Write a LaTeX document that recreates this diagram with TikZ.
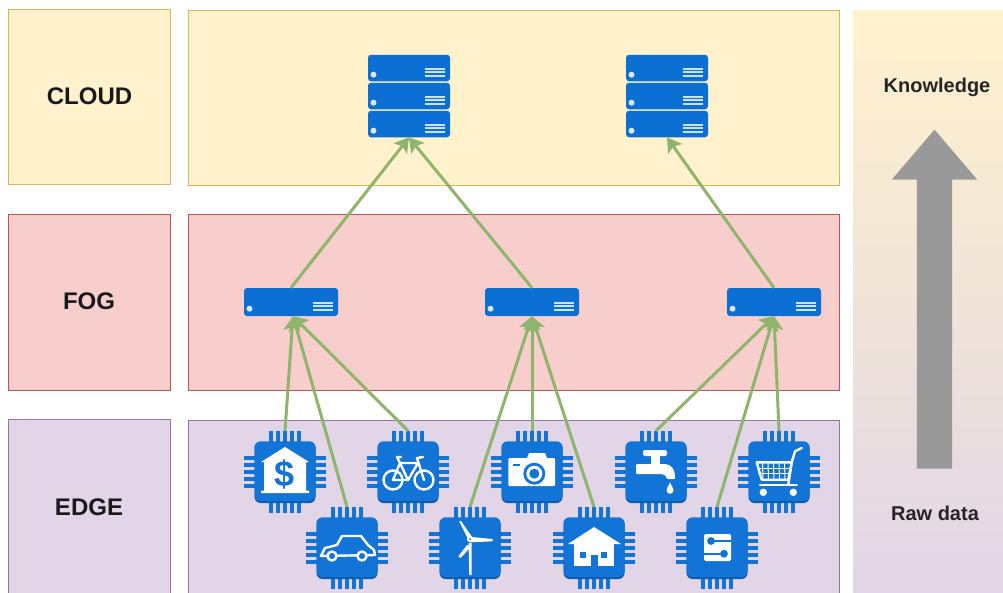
\documentclass[tikz,border=0pt]{standalone}
\usepackage{fontspec}
\setmainfont{Liberation Sans}
\usetikzlibrary{arrows.meta,shapes.arrows}

\definecolor{chipblue}{HTML}{1174D6}
\definecolor{chipdark}{HTML}{0B5CAE}
\definecolor{serverblue}{HTML}{0B6FD3}
\definecolor{linkgreen}{HTML}{8FB56C}
\definecolor{cloudfill}{HTML}{FFF2CC}
\definecolor{cloudline}{HTML}{D6B656}
\definecolor{fogfill}{HTML}{F8CECC}
\definecolor{fogline}{HTML}{B85450}
\definecolor{edgefill}{HTML}{E1D5E7}
\definecolor{edgeline}{HTML}{9673A6}

\tikzset{
    band/.style={fill=#1fill, draw=#1line, line width=0.5pt, inner sep=0pt},
    labeltext/.style={font=\bfseries\fontsize{24}{24}\selectfont, text=black!90},
    sidetext/.style={font=\bfseries\fontsize{20}{20}\selectfont, text=black!85},
    link/.style={draw=linkgreen, line width=3pt, -{Stealth[length=14pt,width=17pt,inset=3pt]}},
    serverunit/.style={fill=serverblue, rounded corners=3pt, inner sep=0pt, minimum height=#1},
    chipspace/.style={minimum size=82pt, inner sep=0pt},
    whiteline/.style={draw=white, line width=2.4pt, line join=round, line cap=round},
    serverlines/.pic={
        \fill[white!85!serverblue] (-#1+5.5,6.7) circle (3);
        \foreach \ypos in {0.8,4.2,7.6}
            \fill[white!80!serverblue] (#1-25,\ypos-0.9) rectangle (#1-5.5,\ypos+0.9);
    },
    chip/.pic={
        \foreach \off in {-14.4,-7.2,0,7.2,14.4} {
            \fill[chipblue] (\off-2,-41) rectangle (\off+2,41);
            \fill[chipblue] (-41,\off-2) rectangle (41,\off+2);
        }
        \fill[chipdark,rounded corners=6pt] (-30.5,-30.5) rectangle (30.5,31);
        \fill[chipblue,rounded corners=6pt] (-30.5,-30.5) rectangle (30.5,29);
    },
    bankicon/.pic={
        \fill[white] (0,-25) -- (24,-10) -- (21,-10) -- (21,18.5) -- (24,18.5) -- (24,21) -- (-24,21) -- (-24,18.5) -- (-21,18.5) -- (-21,-10) -- (-24,-10) -- cycle;
        \node[font=\bfseries\fontsize{36}{36}\selectfont, text=chipblue, inner sep=0pt] (dollar) at (0,2) {\$};
    },
    caricon/.pic={
        \draw[whiteline] (-26,8) -- (-22,0) -- (-10,-3) -- (-5,-12) -- (14,-12) -- (21,-3) -- (27,2) -- (28,7) -- cycle;
        \foreach \xpos in {-15,15}
            \draw[whiteline,fill=chipblue] (\xpos,8) circle (4.5);
    },
    bikeicon/.pic={
        \foreach \xpos in {-15,16}
            \draw[whiteline] (\xpos,8) circle (9.5);
        \draw[whiteline] (-15,8) -- (-8,-9) -- (0,8) -- cycle;
        \draw[whiteline] (-8,-9) -- (10,-9) -- (0,8);
        \draw[whiteline] (16,8) -- (9,-14) -- (15,-15);
        \draw[whiteline] (-8,-9) -- (-11,-15) -- (-7,-15);
    },
    windicon/.pic={
        \fill[white] (-1.5,-5) -- (1.7,-5) -- (1.7,27) -- (-0.7,27) -- cycle;
        \fill[white] (-2.5,-10) -- (-11,-27) -- (-9,-27) -- (2,-11) -- cycle;
        \fill[white] (1.7,-11) -- (22.7,-9) -- (22.7,-6.7) -- (0.7,-5.7) -- cycle;
        \fill[white] (-2.7,-3.3) -- (-11.7,8.3) -- (-9.3,10) -- (0.5,-1) -- cycle;
        \fill[white] (0,-9) circle (3.2);
        \fill[chipblue] (0,-9) circle (1);
    },
    cameraicon/.pic={
        \fill[white,rounded corners=1pt] (-23.7,-14) rectangle (23,14);
        \fill[white] (-5,-14) -- (-3,-19) -- (13,-19) -- (15,-14) -- cycle;
        \fill[chipblue] (-18.7,-8) rectangle (-12.5,-5.7);
        \fill[chipblue] (2.3,1.7) circle (11);
        \fill[white] (2.3,1.7) circle (8);
        \fill[chipblue] (2.3,1.7) circle (5);
    },
    houseicon/.pic={
        \fill[white] (0,-21) -- (27,-4) -- (-26,-4) -- cycle;
        \fill[white] (-20,-5) rectangle (19.5,18);
        \foreach \xpos in {-11,10}
            \fill[chipblue] (\xpos-3,4) rectangle (\xpos+3,10);
        \fill[chipblue] (-3.5,7) rectangle (3.5,18);
    },
    tapicon/.pic={
        \fill[white,rounded corners=2pt] (-13,-22) rectangle (11,-16);
        \fill[white] (-5,-17) rectangle (4,-7);
        \fill[white,rounded corners=1pt] (-20,-8) -- (8,-8) .. controls (15,-8) and (19,-3) .. (19,7) -- (10.7,7) .. controls (10.7,4) and (8,2) .. (4,2) -- (-20,2) -- cycle;
        \fill[white] (14,10.5) .. controls (15,14) and (17.5,15) .. (17.5,18) .. controls (17.5,23) and (10.5,23) .. (10.5,18) .. controls (10.5,15) and (13,14) .. (14,10.5) -- cycle;
    },
    circuiticon/.pic={
        \fill[white,rounded corners=1.5pt] (-13,-14) rectangle (14,13);
        \draw[chipblue,line width=1.6pt] (-6,-7) -- (14,-7);
        \draw[chipblue,line width=1.6pt] (-13,5.7) -- (7,5.7);
        \fill[chipblue] (-6,-7) circle (3.9);
        \fill[chipblue] (7,5.7) circle (3.9);
    },
    carticon/.pic={
        \draw[whiteline] (-22.3,-9.7) -- (12.7,-9.7) -- (9.3,7.7) -- (-17.3,7.7) -- cycle;
        \foreach \xpos in {-16.5,-11,-5.5,0,5.5}
            \draw[white,line width=1pt] (\xpos,-9.7) -- (\xpos+0.5,7.7);
        \foreach \ypos in {-4,1.5}
            \draw[white,line width=1pt] (-21,\ypos) -- (11,\ypos);
        \draw[whiteline] (12.7,-9.7) -- (16,-20.7) -- (22.7,-24);
        \draw[whiteline] (12.7,-9.7) -- (9.3,12.7);
        \draw[whiteline] (-19,12.7) -- (17.7,12.7);
        \foreach \xpos in {-15.7,14.3}
            \fill[white] (\xpos,20.3) circle (3.7);
    }
}

\newcommand{\chipnode}[3]{
    \node[chipspace] (#1) at (#2) {};
    \pic at (#1) {chip};
    \pic at (#1) {#3};
}
\newcommand{\servernode}[4]{
    \node[serverunit=#4, minimum width=#3] (#1) at (#2) {};
    \pic at (#1) {serverlines=#3/2};
}

\begin{document}
\begin{tikzpicture}[x=1pt,y=-1pt]
    \useasboundingbox (0,0) rectangle (1003,592);

    % layers
    \node[band=cloud, minimum width=162pt, minimum height=175pt] (cloudlabel) at (89,96.5) {};
    \node[band=cloud, minimum width=651pt, minimum height=175pt] (cloudband) at (513.5,97.5) {};
    \node[band=fog, minimum width=162pt, minimum height=176pt] (foglabel) at (89,302) {};
    \node[band=fog, minimum width=651pt, minimum height=176pt] (fogband) at (513.5,302) {};
    \node[band=edge, minimum width=162pt, minimum height=176pt] (edgelabel) at (89,507) {};
    \node[band=edge, minimum width=651pt, minimum height=176pt] (edgeband) at (513.5,508) {};
    \node[labeltext] (cloudtext) at (89.5,96) {CLOUD};
    \node[labeltext] (fogtext) at (89,301) {FOG};
    \node[labeltext] (edgetext) at (89,507) {EDGE};

    % raw data to knowledge
    \node[top color=cloudfill, bottom color=edgefill, minimum width=160pt, minimum height=592pt, inner sep=0pt] (sidepanel) at (933,306) {};
    \node[sidetext] (knowledge) at (937,87) {Knowledge};
    \node[sidetext] (rawdata) at (935,513) {Raw data};
    \node[single arrow, fill=black!40, inner xsep=0pt, inner ysep=17.5pt, rotate=90, minimum height=339pt, minimum width=85pt,
        single arrow head extend=25pt, single arrow head indent=0pt, single arrow tip angle=81] (upwards) at (934.5,309.5) {};

    % servers
    \servernode{cloudAa}{409,68}{82}{26.5}
    \servernode{cloudAb}{409,96}{82}{26.5}
    \servernode{cloudAc}{409,124}{82}{26.5}
    \servernode{cloudBa}{667,68}{82}{26.5}
    \servernode{cloudBb}{667,96}{82}{26.5}
    \servernode{cloudBc}{667,124}{82}{26.5}
    \servernode{fogA}{291,302}{94}{28}
    \servernode{fogB}{532,302}{94}{28}
    \servernode{fogC}{774,302}{94}{28}

    % devices
    \chipnode{bank}{285,472}{bankicon}
    \chipnode{car}{347,548}{caricon}
    \chipnode{bike}{408,472}{bikeicon}
    \chipnode{wind}{470,548}{windicon}
    \chipnode{camera}{532,472}{cameraicon}
    \chipnode{house}{594,548}{houseicon}
    \chipnode{tap}{656,472}{tapicon}
    \chipnode{circuit}{717,548}{circuiticon}
    \chipnode{cart}{779,472}{carticon}

    \draw[link] (fogA.north) -- (cloudAc.south);
    \draw[link] (fogB.north) -- (cloudAc.south);
    \draw[link] (fogC.north) -- (cloudBc.south);
    \foreach \dev in {bank,car,bike}
        \draw[link] (\dev.north) -- ([xshift=2pt]fogA.south);
    \foreach \dev in {wind,camera,house}
        \draw[link] (\dev.north) -- (fogB.south);
    \foreach \dev in {tap,circuit,cart}
        \draw[link] (\dev.north) -- (fogC.south);
\end{tikzpicture}
\end{document}
